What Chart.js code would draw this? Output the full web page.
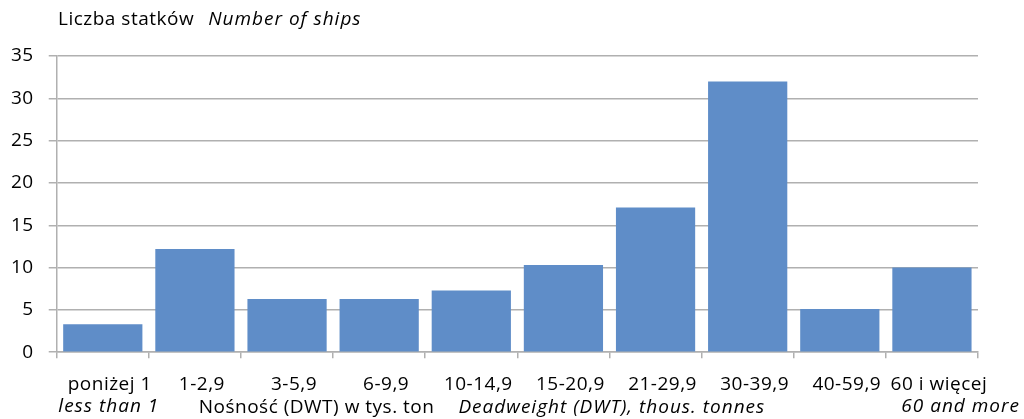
<!DOCTYPE html>
<html>
<head>
<meta charset="utf-8">
<script src="https://cdn.jsdelivr.net/npm/chart.js@4"></script>
<style>
  html, body { margin: 0; padding: 0; background: #fff; }
  #wrap { width: 1024px; height: 419px; position: relative; }
</style>
</head>
<body>
<div id="wrap"><canvas id="shipsChart"></canvas></div>
<script>
// categories: deadweight classes (Polish), English notes under some of them
const categories = ['poniżej 1', '1-2,9', '3-5,9', '6-9,9', '10-14,9', '15-20,9', '21-29,9', '30-39,9', '40-59,9', '60 i więcej'];
const categoryNotes = ['less than 1', '', '', '', '', '', '', '', '', '60 and more'];
const shipCounts = [3.3, 12.2, 6.3, 6.3, 7.3, 10.3, 17.1, 32, 5.1, 10];
const yTickValues = [0, 5, 10, 15, 20, 25, 30, 35];

const FONT = '"Open Sans", sans-serif';
const FSIZE = 19;
const SPACING = '0.5px';
const ITALIC_SPACING = '1px';

// texts that mix upright and italic parts are drawn by hand
const labelsPlugin = {
    id: 'mixedLabels',
    beforeLayout(chart) {
        chart.ctx.letterSpacing = SPACING;
    },
    beforeDraw(chart) {
        chart.ctx.letterSpacing = SPACING;
    },
    afterDraw(chart) {
        const ctx = chart.ctx;
        const area = chart.chartArea;
        const x = chart.scales.x;
        const upright = FSIZE + 'px ' + FONT;
        const italic = 'italic ' + FSIZE + 'px ' + FONT;
        ctx.save();
        ctx.fillStyle = '#000';
        ctx.textBaseline = 'middle';

        // y axis title
        ctx.textAlign = 'left';
        ctx.font = upright;
        ctx.letterSpacing = SPACING;
        const t1 = 'Liczba statków';
        ctx.fillText(t1, 58, 20);
        const w1 = ctx.measureText(t1).width;
        ctx.font = italic;
        ctx.letterSpacing = ITALIC_SPACING;
        ctx.fillText('Number of ships', 58 + w1 + 14, 20);

        // second line of category labels
        categoryNotes.forEach((note, i) => {
            if (!note) return;
            if (i === categoryNotes.length - 1) {
                ctx.textAlign = 'right';
                ctx.fillText(note, chart.width - 4, 407);
            } else {
                ctx.textAlign = 'center';
                ctx.fillText(note, x.getPixelForValue(i) + 6, 407);
            }
        });

        // x axis title
        ctx.font = upright;
        ctx.letterSpacing = SPACING;
        const a = 'Nośność (DWT) w tys. ton';
        const wa = ctx.measureText(a).width;
        const gap = 24;
        const start = area.left + 142;
        ctx.textAlign = 'left';
        ctx.fillText(a, start, 408);
        ctx.font = italic;
        ctx.letterSpacing = ITALIC_SPACING;
        ctx.fillText('Deadweight (DWT), thous. tonnes', start + wa + gap, 408);
        ctx.restore();
    }
};

const ctx = document.getElementById('shipsChart').getContext('2d');
const shipsChart = new Chart(ctx, {
    type: 'bar',
    data: {
        labels: categories,
        datasets: [{
            data: shipCounts,
            backgroundColor: '#5f8dc8',
            borderWidth: 0,
            barPercentage: 0.86,
            categoryPercentage: 1
        }]
    },
    options: {
        responsive: true,
        maintainAspectRatio: false,
        animation: false,
        layout: {
            padding: { top: 56, left: -4, right: 46, bottom: 8 }
        },
        plugins: {
            legend: { display: false },
            tooltip: { enabled: false }
        },
        scales: {
            x: {
                grid: {
                    drawOnChartArea: false,
                    drawTicks: true,
                    tickLength: 6,
                    color: '#b0b0b0',
                    lineWidth: 1.5
                },
                border: { color: '#b0b0b0', width: 1.5 },
                ticks: {
                    color: '#000',
                    font: { family: FONT, size: FSIZE },
                    padding: 15,
                    labelOffset: 7,
                    maxRotation: 0,
                    autoSkip: false
                }
            },
            y: {
                min: 0,
                max: 35,
                afterBuildTicks(scale) {
                    scale.ticks = yTickValues.map(v => ({ value: v }));
                },
                grid: {
                    color: '#b0b0b0',
                    lineWidth: 1.5,
                    tickLength: 8
                },
                border: { color: '#b0b0b0', width: 1.5 },
                ticks: {
                    color: '#000',
                    font: { family: FONT, size: FSIZE },
                    padding: 15
                }
            }
        }
    },
    plugins: [labelsPlugin]
});
</script>
</body>
</html>
